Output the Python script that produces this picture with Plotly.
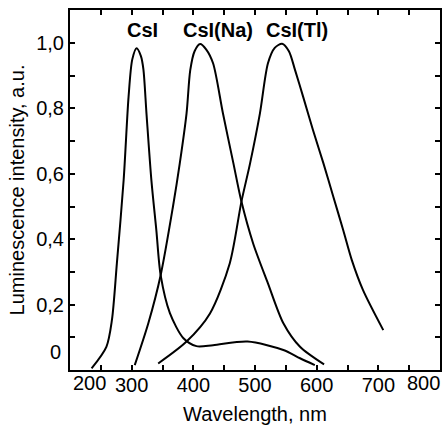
import plotly.graph_objects as go

# Data
csi_wl = [235, 259, 268, 276, 287, 295, 301, 308, 315, 319, 324, 332, 340, 347, 362, 384, 405, 432, 488, 546, 573, 597]
csi_int = [0.005, 0.071, 0.153, 0.326, 0.581, 0.836, 0.95, 0.984, 0.96, 0.92, 0.785, 0.58, 0.428, 0.29, 0.174, 0.097, 0.073, 0.076, 0.087, 0.061, 0.036, 0.015]

csina_wl = [305, 327, 347, 367, 378, 389, 395, 402, 411, 421, 432, 448, 465, 478, 497, 521, 546, 573, 612]
csina_int = [0.015, 0.143, 0.29, 0.5, 0.632, 0.785, 0.917, 0.975, 0.997, 0.98, 0.938, 0.785, 0.632, 0.515, 0.387, 0.265, 0.143, 0.071, 0.017]

csitl_wl = [343, 389, 427, 459, 478, 492, 508, 521, 532, 544, 555, 565, 578, 594, 611, 627, 643, 657, 675, 708]
csitl_int = [0.02, 0.087, 0.173, 0.326, 0.515, 0.632, 0.785, 0.938, 0.985, 0.998, 0.975, 0.917, 0.836, 0.734, 0.632, 0.53, 0.428, 0.336, 0.245, 0.122]

curve_labels = ["CsI", "CsI(Na)", "CsI(Tl)"]
label_x = [317, 440, 568]
label_y = 1.04

x_tick_vals = list(range(200, 801, 50))
x_tick_text = ["" if (v % 100 or v in (200, 800)) else str(v) for v in x_tick_vals]
y_tick_vals = [round(0.1 * i, 1) for i in range(0, 12)]
y_tick_text = ["0,2" if v == 0.2 else "0,4" if v == 0.4 else "0,6" if v == 0.6 else "0,8" if v == 0.8 else "1,0" if v == 1.0 else "" for v in y_tick_vals]

FONT = "Arial, 'Liberation Sans', sans-serif"

fig = go.Figure()
for wl, it in [(csi_wl, csi_int), (csina_wl, csina_int), (csitl_wl, csitl_int)]:
    fig.add_trace(go.Scatter(x=wl, y=it, mode="lines",
                             line=dict(color="black", width=2, shape="spline", smoothing=0.8),
                             showlegend=False, hoverinfo="skip"))

for t, xv in zip(curve_labels, label_x):
    fig.add_annotation(x=xv, y=label_y, text="<b>%s</b>" % t, showarrow=False,
                       font=dict(family=FONT, size=20, color="black"), xanchor="center", yanchor="middle")

# edge labels shifted inward as in the reference
fig.add_annotation(x=200, y=0, yref="y", text="200", showarrow=False, xanchor="left", yanchor="top",
                   yshift=0, xshift=1, font=dict(family=FONT, size=20, color="black"))
fig.add_annotation(x=800, y=0, yref="y", text="800", showarrow=False, xanchor="right", yanchor="top",
                   yshift=0, xshift=2, font=dict(family=FONT, size=20, color="black"))
fig.add_annotation(x=200, y=0.055, text="0", showarrow=False, xanchor="right", yanchor="middle",
                   xshift=-7, font=dict(family=FONT, size=20, color="black"))

axis_common = dict(showline=True, linecolor="black", linewidth=2, mirror="ticks",
                   ticks="inside", ticklen=5, tickwidth=1.5, tickcolor="black",
                   showgrid=False, zeroline=False, tickmode="array", automargin=False,
                   tickfont=dict(family=FONT, size=20, color="black"))

fig.update_xaxes(range=[200, 800], tickvals=x_tick_vals, ticktext=x_tick_text, ticklabelstandoff=-4,
                 title=dict(text="Wavelength, nm", font=dict(family=FONT, size=20, color="black"), standoff=14),
                 **axis_common)
fig.update_yaxes(range=[0, 1.101], tickvals=y_tick_vals, ticktext=y_tick_text,
                 title=dict(text="Luminescence intensity, a.u.", font=dict(family=FONT, size=20, color="black"), standoff=6),
                 **axis_common)

fig.update_layout(width=445, height=425, margin=dict(l=70, r=5, t=10, b=55),
                  plot_bgcolor="white", paper_bgcolor="white",
                  font=dict(family=FONT, size=20, color="black"))

fig.write_html("out.html", config={"displayModeBar": False},
               post_script="document.body.style.margin='0';")
